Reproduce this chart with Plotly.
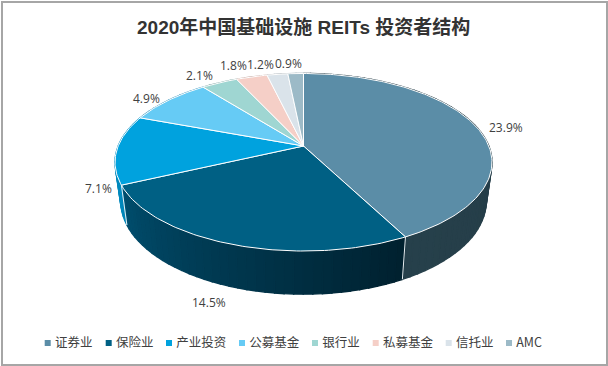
import numpy as np
import plotly.graph_objects as go

# ---- data ----
categories = ["证券业", "保险业", "产业投资", "公募基金", "银行业", "私募基金", "信托业", "AMC"]
values = [23.9, 14.5, 7.1, 4.9, 2.1, 1.8, 1.2, 0.9]
value_labels = ["23.9%", "14.5%", "7.1%", "4.9%", "2.1%", "1.8%", "1.2%", "0.9%"]
title_text = "2020年中国基础设施 REITs 投资者结构"

# ---- style ----
top_colors = ["#5B8DA7", "#006084", "#00A2DE", "#66CBF5", "#9FD6D2", "#F5CFC7", "#DAE3EA", "#9CBAC7"]
wall_start = ["#243A44", "#00202E", "#0085B8", "#3F9BC2", "#7AA5A2", "#BFA19A", "#A8B0B6", "#7A919B"]
wall_end = ["#26404B", "#004E6E", "#0092C8", "#3F9BC2", "#7AA5A2", "#BFA19A", "#A8B0B6", "#7A919B"]
label_xy = [(506, 127), (209, 302), (98, 188), (146, 98), (199, 75), (233, 65), (260, 64), (288, 63)]
legend_x = [47.7, 108.7, 169, 242, 315, 375.7, 448.7, 509]
legend_colors = top_colors

# perspective pie projection (angle clockwise from 12 o'clock)
CX = 303.5
CY_TOP, F_TOP, G_TOP = 146.0, 185.3, 85.8
CY_BOT, F_BOT, G_BOT = 184.0, 179.7, 90.0
K = 0.183


def project(theta, cy, f, g):
    X, Y = np.sin(theta), np.cos(theta)
    d = 1 + K * Y
    return CX + f * X / d, cy - g * Y / d


def hex2rgb(h):
    return np.array([int(h[i:i + 2], 16) for i in (1, 3, 5)], dtype=float)


def mix(a, b, t):
    c = hex2rgb(a) * (1 - t) + hex2rgb(b) * t
    return "rgb(%d,%d,%d)" % tuple(c.round())


edges = np.concatenate([[0], np.cumsum(values)]) / np.sum(values) * 2 * np.pi
fig = go.Figure()

# side walls, back to front
for i in range(len(values)):
    a, b = edges[i], edges[i + 1]
    n = max(2, int((b - a) / np.radians(2.5)))
    ts = np.linspace(a, b, n + 1)
    for j in range(n):
        seg = np.linspace(ts[j], ts[j + 1], 4)
        x1, y1 = project(seg, CY_TOP, F_TOP, G_TOP)
        x2, y2 = project(seg[::-1], CY_BOT, F_BOT, G_BOT)
        col = mix(wall_start[i], wall_end[i], (j + 0.5) / n)
        fig.add_trace(go.Scatter(
            x=np.r_[x1, x2, x1[0]], y=np.r_[y1, y2, y1[0]], mode="lines", fill="toself",
            fillcolor=col, line=dict(color=col, width=1.4), hoverinfo="skip", showlegend=False))

# white separators on the front wall
for t in edges[1:-1]:
    if np.cos(t) < -0.2:
        x1, y1 = project(t, CY_TOP, F_TOP, G_TOP)
        x2, y2 = project(t, CY_BOT, F_BOT, G_BOT)
        fig.add_trace(go.Scatter(x=[x1, x2], y=[y1, y2], mode="lines",
                                 line=dict(color="#E8EEF1", width=1), hoverinfo="skip", showlegend=False))

# top faces
for i, cat in enumerate(categories):
    ts = np.linspace(edges[i], edges[i + 1], max(3, int((edges[i + 1] - edges[i]) / np.radians(1)) + 1))
    x, y = project(ts, CY_TOP, F_TOP, G_TOP)
    fig.add_trace(go.Scatter(
        x=np.r_[CX, x, CX], y=np.r_[CY_TOP, y, CY_TOP], mode="lines", fill="toself", name=cat,
        fillcolor=top_colors[i], line=dict(color="white", width=1), showlegend=False,
        text=f"{cat} {value_labels[i]}", hoverinfo="text"))

# legend row
fig.add_trace(go.Scatter(
    x=legend_x, y=[343] * len(categories), mode="markers",
    marker=dict(symbol="square", size=6, color=legend_colors),
    hoverinfo="skip", showlegend=False))
fig.add_trace(go.Scatter(
    x=[v + 7.2 for v in legend_x], y=[343.5] * len(categories), mode="text", text=categories,
    textposition="middle right",
    textfont=dict(size=12.5, color="#404040", family="Noto Sans CJK SC"),
    hoverinfo="skip", showlegend=False))

for lab, (lx, ly) in zip(value_labels, label_xy):
    fig.add_annotation(x=lx, y=ly, text=lab, showarrow=False, xanchor="center", yanchor="middle",
                       font=dict(size=12, color="#404040", family="Open Sans"))

fig.add_annotation(x=303.5, y=27, text=f"<b>{title_text}</b>", showarrow=False,
                   font=dict(size=19, color="#333333", family="Liberation Sans, Noto Sans CJK SC"))

fig.update_layout(
    width=608, height=366, margin=dict(l=0, r=0, t=0, b=0),
    paper_bgcolor="white", plot_bgcolor="white", showlegend=False,
    xaxis=dict(range=[0, 608], visible=False, fixedrange=True),
    yaxis=dict(range=[366, 0], visible=False, fixedrange=True),
    shapes=[dict(type="rect", x0=2, y0=2, x1=607, y1=365, line=dict(color="#A6A6A6", width=2), layer="below")],
)
fig.write_html("out.html", config=dict(displayModeBar=False),
               post_script="document.body.style.margin='0';document.documentElement.style.overflow='hidden';")
